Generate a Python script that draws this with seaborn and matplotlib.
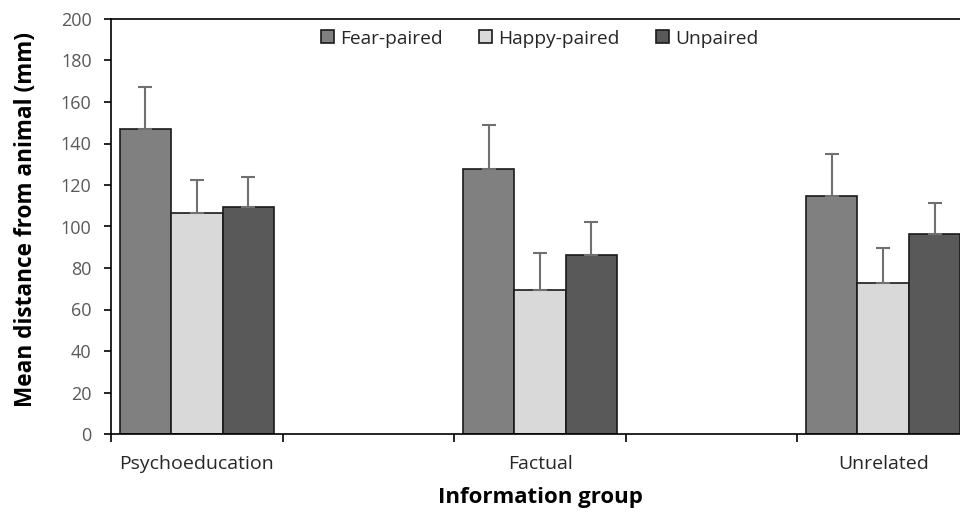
import matplotlib
matplotlib.use("Agg")
import matplotlib.pyplot as plt
import seaborn as sns
import pandas as pd

# data (mm)
groups = ["Psychoeducation", "Factual", "Unrelated"]
conditions = ["Fear-paired", "Happy-paired", "Unpaired"]
fear = [147, 127.5, 114.5]
happy = [106.5, 69.5, 73]
unpaired = [109.5, 86.5, 96.5]
fear_err = [20, 21.5, 20.5]
happy_err = [16, 17.5, 16.5]
unpaired_err = [14.5, 15.5, 15]
colors = ["#808080", "#d9d9d9", "#595959"]

# empty slots between groups like the original chart
order = ["Psychoeducation", "", "Factual", " ", "Unrelated"]

rows = []
for vals, errs, cond in [(fear, fear_err, "Fear-paired"),
                         (happy, happy_err, "Happy-paired"),
                         (unpaired, unpaired_err, "Unpaired")]:
    for g, v, e in zip(groups, vals, errs):
        rows.append({"group": g, "cond": cond, "mean": v, "se": e})
df = pd.DataFrame(rows)

sns.set_theme(style="white")
plt.rcParams["font.family"] = ["Open Sans", "DejaVu Sans"]

fig = plt.figure(figsize=(9.6, 5.12), dpi=100)
ax = fig.add_axes([111 / 960, 78 / 512, 858 / 960, 415 / 512])

sns.barplot(data=df, x="group", y="mean", hue="cond", order=order,
            hue_order=conditions, palette=colors, width=0.9,
            edgecolor="#1a1a1a", linewidth=1.2, errorbar=None, ax=ax)

# upward-only error bars
for cond, cont in zip(conditions, ax.containers):
    sub = df[df["cond"] == cond]
    for bar in cont:
        if bar.get_height() == 0 or pd.isna(bar.get_height()):
            continue
        xc = bar.get_x() + bar.get_width() / 2
        g = order[int(round(xc))]
        se = sub.loc[sub["group"] == g, "se"].values[0]
        ax.errorbar(xc, bar.get_height(), yerr=[[0], [se]], fmt="none",
                    ecolor="#707070", elinewidth=1.5, capsize=5, capthick=1.5,
                    zorder=1)

ax.set_ylim(0, 200)
ax.set_yticks(range(0, 201, 20))
ax.set_xlim(-0.5, 4.5)
ax.set_xticks(range(len(order)))
ax.set_xticklabels(order)
ax.set_xticks([i - 0.5 for i in range(len(order) + 1)], minor=True)
ax.tick_params(axis="x", which="major", length=0, pad=15, labelsize=14,
               labelcolor="#262626")
ax.tick_params(axis="x", which="minor", length=6, width=1.2, color="black",
               direction="out", bottom=True)
ax.tick_params(axis="y", length=5, width=1.2, color="black", direction="out",
               left=True, labelsize=13, labelcolor="#595959", pad=9)

for s in ["left", "bottom", "top"]:
    ax.spines[s].set_color("black")
    ax.spines[s].set_linewidth(1.2)
ax.spines["right"].set_visible(False)

ax.set_ylabel("Mean distance from animal (mm)", fontsize=16.3, fontweight="bold",
              color="black")
ax.yaxis.set_label_coords(-0.085, 0.518)
ax.set_xlabel("Information group", fontsize=16, fontweight="bold",
              color="black", labelpad=10)

ax.legend(loc="upper center", bbox_to_anchor=(0.5, 1.0), ncol=3,
          frameon=False, fontsize=13.8, handlelength=0.65, handleheight=0.65,
          handletextpad=0.35, columnspacing=1.9, borderaxespad=0.15)

fig.savefig("out.png", dpi=100)
